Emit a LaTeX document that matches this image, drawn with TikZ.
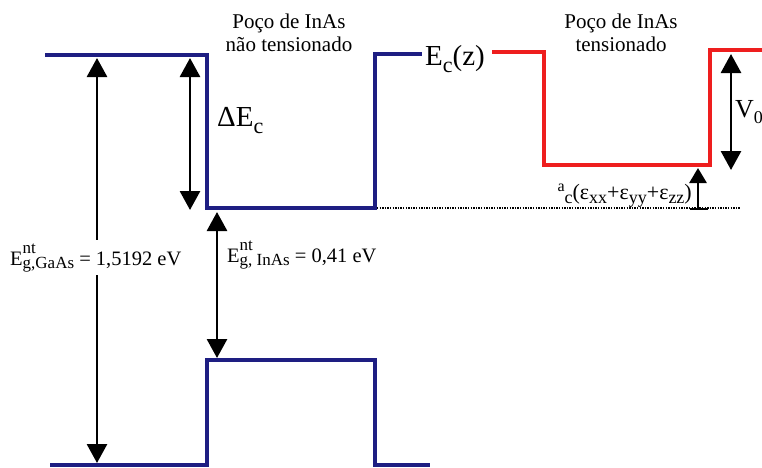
\documentclass[tikz,border=0pt]{standalone}
\usepackage{fontspec}
\setmainfont{Liberation Serif}
\usetikzlibrary{arrows.meta}
\definecolor{bandblue}{RGB}{30,30,130}
\definecolor{bandred}{RGB}{238,30,30}
\newcommand{\lowsub}[2]{\raisebox{-#1}{\fontsize{22}{22}\selectfont #2}}
\newcommand{\smsub}[1]{\raisebox{-0.45ex}{\fontsize{18}{18}\selectfont #1}}
\newcommand{\supsub}[2]{\makebox[0pt][l]{\raisebox{12pt}{\fontsize{17}{17}\selectfont #1}}\raisebox{-3pt}{\fontsize{17}{17}\selectfont #2}}
\begin{document}
\begin{tikzpicture}[x=1pt,y=-1pt,
  blueband/.style={draw=bandblue,line width=3.2pt,line join=miter},
  redband/.style={draw=bandred,line width=3.6pt,line join=miter},
  dimarrow/.style={draw=black,line width=2.8pt,{Triangle[length=19pt,width=20pt]}-{Triangle[length=19pt,width=20pt]}},
  uparrow/.style={draw=black,line width=2.8pt,-{Triangle[length=15pt,width=17pt]}},
  titletext/.style={font=\fontsize{21}{23.5}\selectfont,align=center,inner sep=0pt},
  bigtext/.style={font=\fontsize{29}{31}\selectfont,inner sep=0pt},
  labeltext/.style={font=\fontsize{20.5}{24}\selectfont,inner sep=1pt}]
\useasboundingbox (0,0) rectangle (762,467);
% conduction band, unstrained (blue)
\coordinate (cA) at (45,55);
\coordinate (cB) at (207,55);
\coordinate (cC) at (207,208);
\coordinate (cD) at (375,208);
\coordinate (cE) at (375,54);
\coordinate (cF) at (422,54);
\draw[blueband] (cA) -- (cB) -- (cC) -- (cD) -- (cE) -- (cF);
% valence band (blue)
\coordinate (vA) at (50,465);
\coordinate (vB) at (207,465);
\coordinate (vC) at (207,360);
\coordinate (vD) at (375,360);
\coordinate (vE) at (375,465);
\coordinate (vF) at (430,465);
\draw[blueband] (vA) -- (vB) -- (vC) -- (vD) -- (vE) -- (vF);
% label Ec(z)
\node[bigtext,anchor=base west] (ecz) at (425,65) {E\lowsub{0.25em}{c}(z)};
% strained band (red)
\coordinate (rA) at (492,52);
\coordinate (rB) at (544,52);
\coordinate (rC) at (544,165);
\coordinate (rD) at (710,165);
\coordinate (rE) at (710,50);
\coordinate (rF) at (762,50);
\draw[redband] (rA) -- (rB) -- (rC) -- (rD) -- (rE) -- (rF);
% dotted reference line
\coordinate (dS) at (377,208);
\coordinate (dE) at (740,208);
\draw[black,line width=1.4pt,dash pattern=on 1.4pt off 1.2pt] (dS) -- (dE);
% titles
\node[titletext] (t1) at (289,33) {Poço de InAs\\não tensionado};
\node[titletext] (t2) at (621,33) {Poço de InAs\\tensionado};
% GaAs gap arrow
\coordinate (g1) at (97,58);
\coordinate (g2) at (97,463);
\draw[dimarrow] (g1) -- (g2);
\node[labeltext,fill=white,anchor=base west,inner xsep=0pt,inner ysep=3pt] (lgaas) at (10,265) {E\supsub{nt}{g,GaAs} = 1,5192 eV};
% Delta Ec arrow
\coordinate (d1) at (190,58);
\coordinate (d2) at (190,210);
\draw[dimarrow] (d1) -- (d2);
\node[bigtext,anchor=base west] (lde) at (217,126) {ΔE\lowsub{0.25em}{c}};
% InAs gap arrow
\coordinate (i1) at (217,212);
\coordinate (i2) at (217,358);
\draw[dimarrow] (i1) -- (i2);
\node[labeltext,anchor=base west,inner xsep=0pt] (linas) at (227,262) {E\supsub{nt}{g, InAs} = 0,41 eV};
% V0 arrow
\coordinate (v1) at (731,54);
\coordinate (v2) at (731,170);
\draw[dimarrow] (v1) -- (v2);
\node[font=\fontsize{26}{28}\selectfont,inner sep=0pt,anchor=base west] (lv0) at (735,117) {V\raisebox{-0.25em}{\fontsize{18}{18}\selectfont 0}};
% deformation potential arrow
\coordinate (a1) at (698,209);
\coordinate (a2) at (698,168);
\coordinate (tkl) at (690,209);
\coordinate (tkr) at (708,209);
\draw[uparrow] (a1) -- (a2);
\draw[black,line width=2.4pt] (tkl) -- (tkr);
\node[font=\fontsize{22}{24}\selectfont,anchor=base east,inner sep=0pt] (lac) at (692,199)
  {\raisebox{0.75ex}{\fontsize{16}{16}\selectfont a}\smsub{c}(ε\smsub{xx}+ε\smsub{yy}+ε\smsub{zz})};
\end{tikzpicture}
\end{document}
